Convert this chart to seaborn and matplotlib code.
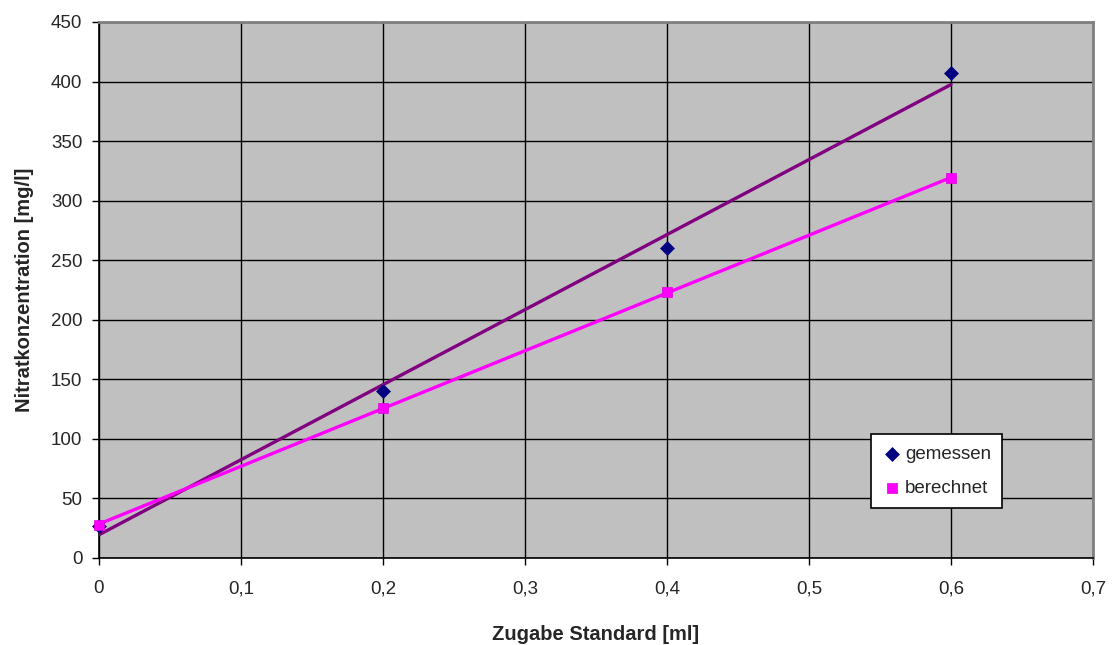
import matplotlib
matplotlib.use("Agg")
import matplotlib.pyplot as plt
import seaborn as sns
import pandas as pd
from matplotlib.ticker import FuncFormatter

# Data
zugabe = [0.0, 0.2, 0.4, 0.6]
gemessen = [27, 140, 260, 407]
berechnet = [28, 126, 223, 319]
x_ticks = [0.0, 0.1, 0.2, 0.3, 0.4, 0.5, 0.6, 0.7]
y_ticks = [0, 50, 100, 150, 200, 250, 300, 350, 400, 450]

df = pd.DataFrame({"zugabe": zugabe, "gemessen": gemessen, "berechnet": berechnet})

sns.set_style("ticks")
plt.rcParams["font.family"] = ["Liberation Sans", "DejaVu Sans"]

fig = plt.figure(figsize=(11.14, 6.45), dpi=100)
ax = fig.add_axes([99 / 1114, 1 - 558 / 645, (1093 - 99) / 1114, (558 - 22) / 645])
ax.set_facecolor("#C0C0C0")

# Trend lines
sns.regplot(data=df, x="zugabe", y="gemessen", scatter=False, ci=None, ax=ax,
            line_kws=dict(color="#800080", lw=2.4, zorder=3))
sns.regplot(data=df, x="zugabe", y="berechnet", scatter=False, ci=None, ax=ax,
            line_kws=dict(color="#FF00FF", lw=2.4, zorder=3.1))

# Points
sns.scatterplot(data=df, x="zugabe", y="gemessen", marker="D", s=50, color="#000080",
                edgecolor="#000080", linewidth=0.5, ax=ax, zorder=4, label="gemessen",
                clip_on=False)
sns.scatterplot(data=df, x="zugabe", y="berechnet", marker="s", s=58, color="#FF00FF",
                edgecolor="#E000E0", linewidth=0.5, ax=ax, zorder=4.1, label="berechnet",
                clip_on=False)

ax.set_xlim(0, 0.7)
ax.set_ylim(0, 450)
ax.set_xticks(x_ticks)
ax.set_yticks(y_ticks)
ax.xaxis.set_major_formatter(FuncFormatter(lambda v, p: ("%g" % round(v, 1)).replace(".", ",")))
ax.yaxis.set_major_formatter(FuncFormatter(lambda v, p: "%d" % v))

ax.grid(True, color="black", lw=1.0)
ax.set_axisbelow(True)

for side in ["left", "bottom"]:
    ax.spines[side].set_color("black")
    ax.spines[side].set_linewidth(1.2)
for side in ["top", "right"]:
    ax.spines[side].set_visible(True)
    ax.spines[side].set_color("#808080")
    ax.spines[side].set_linewidth(2.0)

ax.tick_params(axis="both", direction="out", length=5, width=1.0, color="black",
               labelsize=13.5, pad=7)
ax.tick_params(axis="x", pad=11)

ax.set_xlabel("Zugabe Standard [ml]", fontsize=14.5, fontweight="bold", labelpad=20)
ax.set_ylabel("Nitratkonzentration [mg/l]", fontsize=14.5, fontweight="bold", labelpad=12)

leg = ax.legend(loc="lower left", bbox_to_anchor=((871 - 99) / 994, (558 - 508) / 536),
                frameon=True, fancybox=False, fontsize=13.5, handletextpad=0.2,
                borderpad=0.6, labelspacing=0.9, handlelength=1.0, borderaxespad=0)
leg.get_frame().set_edgecolor("black")
leg.get_frame().set_facecolor("white")
leg.get_frame().set_linewidth(1.2)
leg.get_frame().set_alpha(1)

fig.savefig("out.png", dpi=100)
